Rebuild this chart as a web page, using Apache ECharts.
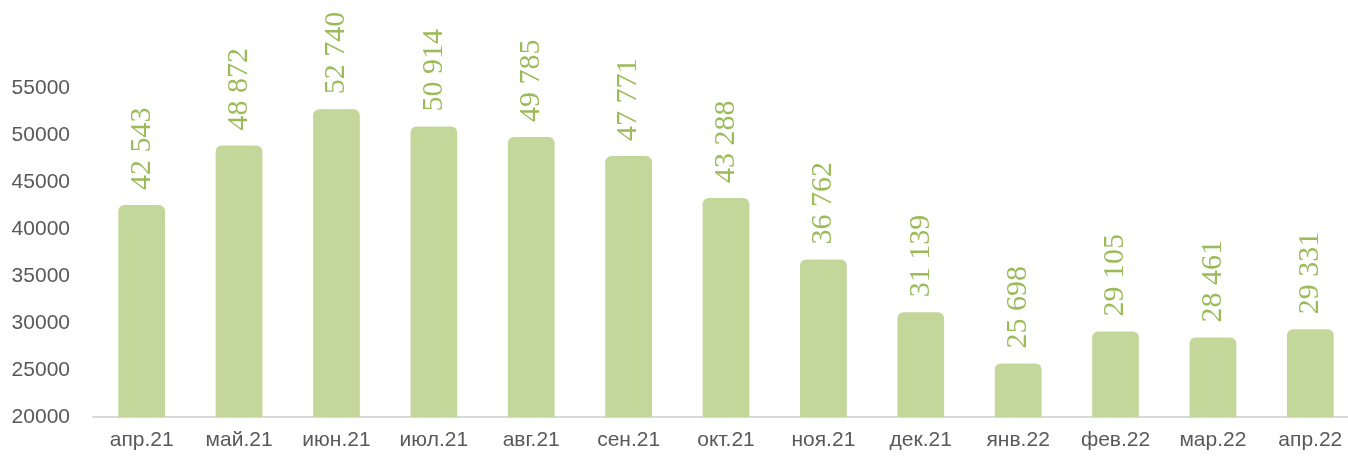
<!DOCTYPE html>
<html><head><meta charset="utf-8">
<script src="https://cdn.jsdelivr.net/npm/echarts@6/dist/echarts.min.js"></script>
<style>html,body{margin:0;padding:0;background:#fff}#c{width:1348px;height:459px}</style>
</head><body><div id="c"></div>
<script>
const categories = ['апр.21','май.21','июн.21','июл.21','авг.21','сен.21','окт.21','ноя.21','дек.21','янв.22','фев.22','мар.22','апр.22'];
const values = [42543, 48872, 52740, 50914, 49785, 47771, 43288, 36762, 31139, 25698, 29105, 28461, 29331];
const yMin = 20000, yMax = 60000, yStep = 5000;

function fmt(v){ return String(v).replace(/\B(?=(\d{3})+(?!\d))/g, ' '); }

const chart = echarts.init(document.getElementById('c'));
chart.setOption({
  animation: false,
  grid: { left: 93, width: 1266, top: 41, bottom: 42, containLabel: false, outerBoundsMode: 'none' },
  xAxis: {
    type: 'category', data: categories,
    axisLine: { lineStyle: { color: '#d9d9d9', width: 2 } },
    axisTick: { show: false },
    axisLabel: { color: '#595959', fontFamily: 'Liberation Sans', fontSize: 21, margin: 13 }
  },
  yAxis: {
    type: 'value', min: yMin, max: yMax, interval: yStep,
    splitLine: { show: false }, axisLine: { show: false }, axisTick: { show: false },
    axisLabel: { color: '#595959', fontFamily: 'Liberation Sans', fontSize: 21, margin: 23, showMaxLabel: false,
      formatter: v => String(v) }
  },
  series: [{
    type: 'bar', data: values, barWidth: '48%',
    itemStyle: { color: '#c4d79b', borderRadius: [6, 6, 0, 0] },
    label: {
      show: true, position: 'top', rotate: 90, align: 'left', verticalAlign: 'middle',
      distance: 15, color: '#9bbb59', fontFamily: 'Liberation Serif', fontSize: 30,
      formatter: p => fmt(p.value)
    }
  }]
});
</script></body></html>
